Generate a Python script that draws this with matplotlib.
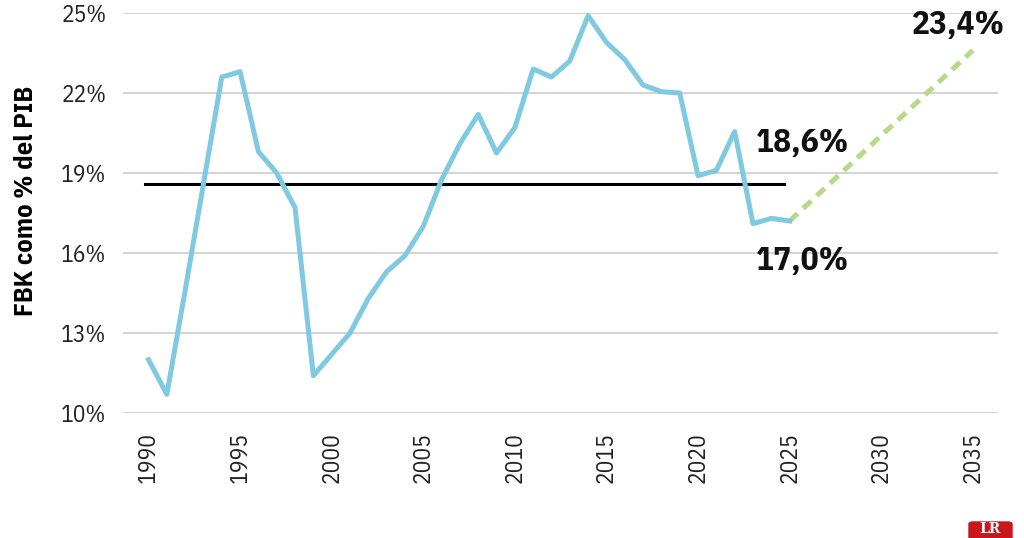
import matplotlib
matplotlib.use('Agg')
import matplotlib.pyplot as plt
from matplotlib.patches import FancyBboxPatch
from matplotlib.ticker import FuncFormatter

# datos
years = list(range(1990, 2026))
fbk = [12.0, 10.7, 14.6, 18.6, 22.6, 22.8, 19.8, 19.0, 17.7, 11.4,
       12.2, 13.0, 14.3, 15.3, 15.9, 17.0, 18.75, 20.1, 21.2, 19.75,
       20.7, 22.9, 22.6, 23.2, 24.9, 23.9, 23.25, 22.3, 22.05, 22.0,
       18.9, 19.1, 20.55, 17.1, 17.3, 17.2]
avg_years = [1989.8, 2024.7]
avg_value = [18.6, 18.6]
proj_years = [2025, 2035]
proj_values = [17.2, 23.6]
xticks = [1990, 1995, 2000, 2005, 2010, 2015, 2020, 2025, 2030, 2035]
yticks = [10, 13, 16, 19, 22, 25]

plt.rcParams['font.family'] = ['IBM Plex Sans Condensed', 'DejaVu Sans']

fig = plt.figure(figsize=(10.24, 5.38), dpi=100)
ax = fig.add_axes([0.120, 0.2323, 0.855, 0.7435])

ax.plot(years, fbk, color='#7fcae0', lw=3.6, zorder=3)
ax.plot(avg_years, avg_value, color='black', lw=2.2, zorder=2)
ax.plot(proj_years, proj_values, color='#b6d98a', lw=3.6, dashes=(2.2, 1.5), zorder=2)

ax.set_xlim(1988.6, 2036.4)
ax.set_ylim(10, 25)
ax.set_xticks(xticks)
ax.set_yticks(yticks)
ax.yaxis.set_major_formatter(FuncFormatter(lambda v, p: f'{v:.0f}%'))
ax.tick_params(axis='x', length=0, pad=14, labelsize=17, labelrotation=90, colors='#222222')
ax.tick_params(axis='y', length=0, pad=12, labelsize=17, colors='#222222')
ax.grid(axis='y', color='#cccccc', lw=1.2)
ax.set_axisbelow(True)
for s in ax.spines.values():
    s.set_visible(False)

ax.set_ylabel('FBK como % del PIB', fontsize=19, fontweight='bold')
ax.yaxis.set_label_coords(-0.097, 0.53)

lab = dict(fontsize=24, fontweight='bold', ha='center', va='baseline', color='#111111')
ax.text(2034.2, 24.2, '23,4%', **lab)
ax.text(2025.7, 19.8, '18,6%', **lab)
ax.text(2025.7, 15.38, '17,0%', **lab)

# logo LR
fig.patches.append(FancyBboxPatch((969 / 1024, -10 / 538), 43 / 1024, 26 / 538,
                                  boxstyle='round,pad=0,rounding_size=0.004',
                                  transform=fig.transFigure, color='#c8171e', zorder=5))
fig.text(990 / 1024, 2 / 538, 'LR', color='white', fontsize=10, fontweight='bold',
         ha='center', va='bottom', family='DejaVu Serif', zorder=6)

fig.savefig('out.png', dpi=100)
